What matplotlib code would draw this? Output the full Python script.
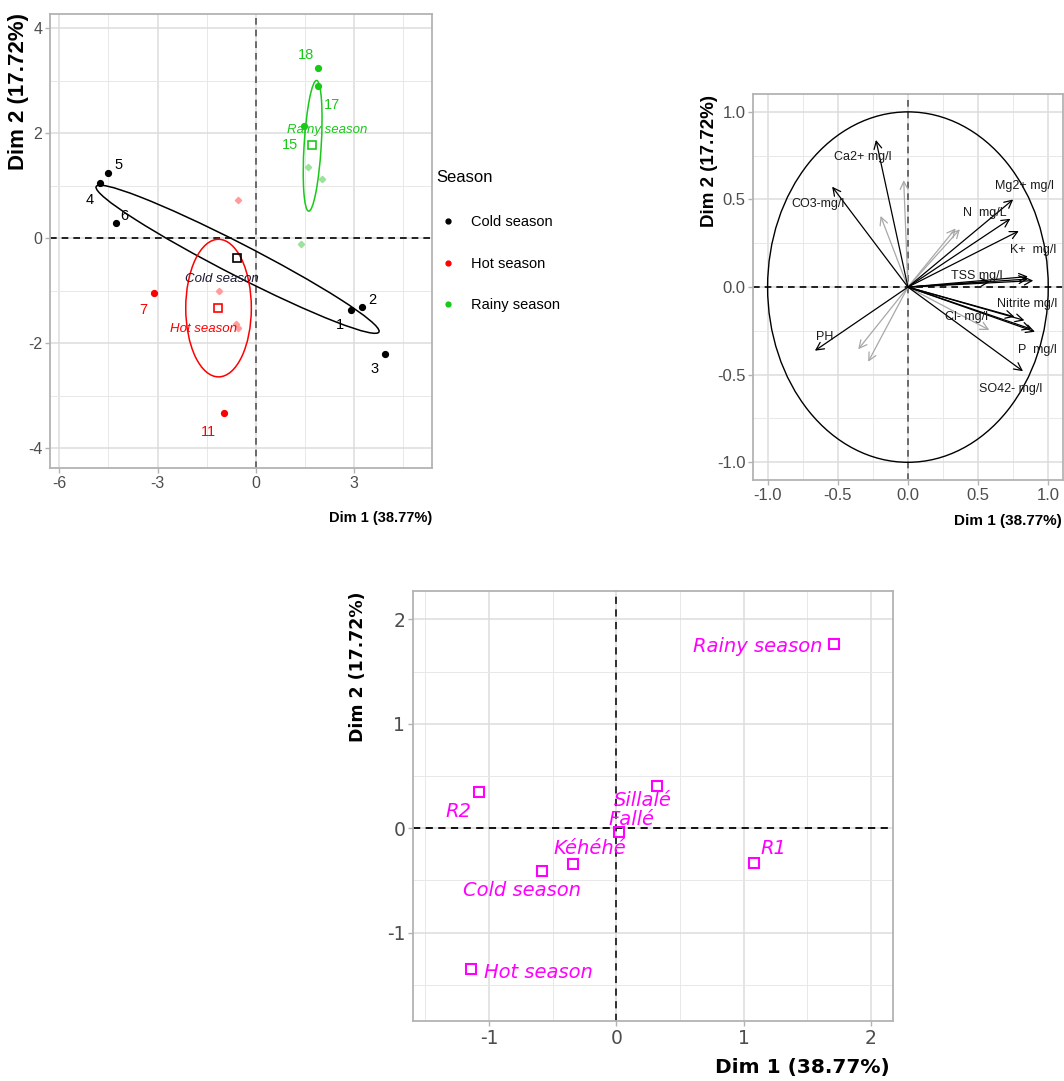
import numpy as np
import matplotlib
matplotlib.use('Agg')
import matplotlib.pyplot as plt
from matplotlib.patches import Ellipse, Circle
from matplotlib.lines import Line2D
from matplotlib.ticker import FormatStrFormatter
from matplotlib import font_manager as fm

plt.rcParams['axes.unicode_minus'] = False

names = {f.name for f in fm.fontManager.ttflist}
HAS_NARROW = 'Liberation Sans Narrow' in names
NARROW = 'Liberation Sans Narrow' if HAS_NARROW else 'Liberation Sans'
NS = 1.15 if HAS_NARROW else 1.0   # size factor when a narrow face exists
REG = 'Liberation Sans'
WIDE = 'DejaVu Sans'

# ---------------- data: panel 1 (individuals) ----------------
cold_x = [2.90, 3.24, 3.93, -4.76, -4.50, -4.28]
cold_y = [-1.37, -1.30, -2.20, 1.05, 1.24, 0.29]
cold_lab = ['1', '2', '3', '4', '5', '6']

hot_x = [-3.11, -0.98, -0.56, -1.13, -0.60, -0.55]
hot_y = [-1.04, -3.32, 0.73, -1.01, -1.63, -1.70]
hot_lab = ['7', '11', None, None, None, None]

rainy_x = [1.90, 1.90, 1.47, 1.59, 2.03, 1.39]
rainy_y = [3.24, 2.90, 2.14, 1.36, 1.13, -0.11]
rainy_lab = ['18', '17', '15', None, None, None]

season_names = ['Cold season', 'Hot season', 'Rainy season']
legend_title = 'Season'

# ellipse parameters (center, width, height, angle)
ell_center = [(-0.56, -0.40), (-1.14, -1.33), (1.73, 1.76)]
ell_width = [9.06, 2.00, 2.50]
ell_height = [0.64, 2.62, 0.52]
ell_angle = [-17.7, 0.0, 84.3]

# ---------------- data: panel 2 (variables) ----------------
var_names = ['Ca2+ mg/l', 'CO3-mg/l', 'Mg2+ mg/l', 'N  mg/L', 'K+  mg/l',
             'TSS mg/l', 'Nitrite mg/l', 'P  mg/l', 'SO42- mg/l', 'PH']
var_x = [-0.228, -0.54, 0.75, 0.73, 0.79, 0.893, 0.76, 0.905, 0.82, -0.663]
var_y = [0.84, 0.573, 0.50, 0.39, 0.32, 0.037, -0.17, -0.255, -0.48, -0.363]
extra_x = [0.855, 0.855, 0.585, 0.88, 0.83]
extra_y = [0.046, 0.06, 0.031, -0.24, -0.19]
sup_x = [-0.03, -0.195, 0.34, 0.37, 0.58, -0.354, -0.283]
sup_y = [0.61, 0.406, 0.335, 0.33, -0.245, -0.355, -0.426]
cl_name = 'Cl- mg/l'
var_lab_pos = [(-0.32, 0.745), (-0.64, 0.474), (0.83, 0.577), (0.55, 0.42),
               (0.89, 0.21), (0.49, 0.065), (0.846, -0.097), (0.92, -0.36),
               (0.73, -0.583), (-0.59, -0.283)]
cl_lab_pos = (0.42, -0.169)

# ---------------- data: panel 3 (supplementary categories) ----------------
cat_names = ['Rainy season', 'R2', 'Sillalé', 'Fallé', 'Kéhéhé',
             'Cold season', 'R1', 'Hot season']
cat_x = [1.71, -1.08, 0.32, 0.02, -0.34, -0.58, 1.08, -1.14]
cat_y = [1.77, 0.345, 0.405, -0.04, -0.34, -0.41, -0.33, -1.35]
cat_off = [(-12, -3), (-20, -19), (-14, -14), (13, 13), (17, 15),
           (-20, -19), (20, 14), (13, -3)]
cat_ha = ['right', 'center', 'center', 'center', 'center', 'center', 'center', 'left']

# ---------------- figure ----------------
W, H = 1064, 1081
fig = plt.figure(figsize=(W / 100, H / 100), dpi=100)


def add_ax(l, t, r, b):
    return fig.add_axes([l / W, 1 - b / H, (r - l) / W, (b - t) / H])


def style(ax, xlim, ylim, xmaj, xmin, ymaj, ymin, family, fs, fmt=None):
    ax.set_xlim(xlim)
    ax.set_ylim(ylim)
    ax.set_xticks(xmaj)
    ax.set_xticks(xmin, minor=True)
    ax.set_yticks(ymaj)
    ax.set_yticks(ymin, minor=True)
    if fmt:
        ax.xaxis.set_major_formatter(FormatStrFormatter(fmt))
        ax.yaxis.set_major_formatter(FormatStrFormatter(fmt))
    ax.grid(which='major', color='#DCDCDC', lw=1.1)
    ax.grid(which='minor', color='#E8E8E8', lw=0.7)
    ax.set_axisbelow(True)
    for s in ax.spines.values():
        s.set_color('#B3B3B3')
        s.set_linewidth(1.3)
    ax.tick_params(which='major', length=3.5, width=1, color='#B3B3B3',
                   labelcolor='#4D4D4D', labelsize=fs, pad=2)
    ax.tick_params(which='minor', length=0)
    for lab in ax.get_xticklabels() + ax.get_yticklabels():
        lab.set_family(family)


dash = (0, (4, 3))

# ===== Panel 1 =====
ax1 = add_ax(50, 14, 432, 468)
style(ax1, (-6.28, 5.37), (-4.375, 4.27), [-6, -3, 0, 3], [-4.5, -1.5, 1.5, 4.5],
      [-4, -2, 0, 2, 4], [-3, -1, 1, 3], NARROW, 11.5 * NS)
ax1.axhline(0, color='black', ls=dash, lw=1.2, zorder=1)
ax1.axvline(0, color='#555555', ls=dash, lw=1.2, zorder=1)

groups = [(cold_x, cold_y, cold_lab, 'black', '#8C8C8C'),
          (hot_x, hot_y, hot_lab, '#FF0000', '#FF9C9C'),
          (rainy_x, rainy_y, rainy_lab, '#19C819', '#9CE29C')]
ell_colors = ['black', '#FF0000', '#19C819']
for i in range(3):
    e = Ellipse(ell_center[i], ell_width[i], ell_height[i], angle=ell_angle[i],
                fill=False, edgecolor=ell_colors[i], lw=1.1, zorder=2)
    ax1.add_patch(e)

lab_off = {'1': (-11, -15), '2': (10, 7), '3': (-10, -15), '4': (-10, -17),
           '5': (10, 8), '6': (9, 7), '7': (-11, -17), '11': (-15, -19),
           '18': (-12, 13), '17': (14, -19), '15': (-14, -19)}

for gx, gy, glab, col, light in groups:
    for x, y, lab in zip(gx, gy, glab):
        if lab is None:
            ax1.plot(x, y, marker='D', ms=3.2, color=light, ls='', zorder=3)
        else:
            ax1.plot(x, y, marker='o', ms=4.2, color=col, ls='', zorder=4)
            ax1.annotate(lab, (x, y), xytext=lab_off[lab], textcoords='offset pixels',
                         ha='center', va='center', color=col, fontsize=10.5 * NS,
                         family=NARROW, zorder=5)

cent_off = [(-15, -21), (-15, -21), (15, 15)]
for i, (gx, gy, glab, col, light) in enumerate(groups):
    cx, cy = np.mean(gx), np.mean(gy)
    ax1.plot(cx, cy, marker='s', ms=5.5, mfc='none', mec=col, mew=1.2, ls='', zorder=4)
    tcol = '#1A1A33' if i == 0 else col
    ax1.annotate(season_names[i], (cx, cy), xytext=cent_off[i], textcoords='offset pixels',
                 ha='center', va='center', color=tcol, fontsize=9.5 * NS, style='italic',
                 family=NARROW, zorder=5)

fig.text(432 / W, 1 - 518 / H, 'Dim 1 (38.77%)', ha='right', va='center',
         fontsize=10.5 * NS, fontweight='bold', family=NARROW)
fig.text(19 / W, 1 - 13 / H, 'Dim 2 (17.72%)', ha='center', va='top', rotation=90,
         fontsize=16, fontweight='bold', family=REG)

# legend (title placed separately so the gap below it matches)
fig.text(436 / W, 1 - 178 / H, legend_title, ha='left', va='center',
         fontsize=12 * NS, family=NARROW)
handles = [Line2D([], [], marker='o', ls='', ms=3.5, color=c) for c in ell_colors]
leg = fig.legend(handles, season_names, loc='upper left',
                 bbox_to_anchor=(436 / W, 1 - 215 / H), frameon=False,
                 prop={'family': NARROW, 'size': 10.5 * NS},
                 handlelength=1.6, handletextpad=0.8, labelspacing=1.9,
                 borderaxespad=0, borderpad=0)

# ===== Panel 2 =====
ax2 = add_ax(753, 94, 1063, 480)
style(ax2, (-1.104, 1.105), (-1.101, 1.102), [-1, -0.5, 0, 0.5, 1],
      [-0.75, -0.25, 0.25, 0.75], [-1, -0.5, 0, 0.5, 1], [-0.75, -0.25, 0.25, 0.75],
      REG, 12, fmt='%.1f')
ax2.axhline(0, color='black', ls=dash, lw=1.2, zorder=1)
ax2.axvline(0, color='#555555', ls=dash, lw=1.2, zorder=1)
ax2.add_patch(Circle((0, 0), 1.0, fill=False, edgecolor='black', lw=1.0, zorder=2))

astyle = '->,head_length=0.55,head_width=0.28'
for x, y in zip(sup_x, sup_y):
    ax2.annotate('', xy=(x, y), xytext=(0, 0),
                 arrowprops=dict(arrowstyle=astyle, color='#A8A8A8', lw=0.9,
                                 shrinkA=0, shrinkB=0), zorder=3)
for x, y in zip(extra_x, extra_y):
    ax2.annotate('', xy=(x, y), xytext=(0, 0),
                 arrowprops=dict(arrowstyle=astyle, color='black', lw=0.9,
                                 shrinkA=0, shrinkB=0), zorder=4)
for x, y in zip(var_x, var_y):
    ax2.annotate('', xy=(x, y), xytext=(0, 0),
                 arrowprops=dict(arrowstyle=astyle, color='black', lw=0.9,
                                 shrinkA=0, shrinkB=0), zorder=4)
for name, (tx, ty) in zip(var_names, var_lab_pos):
    ax2.text(tx, ty, name, ha='center', va='center', fontsize=9 * NS, family=NARROW,
             color='#1A1A1A', zorder=5)
ax2.text(cl_lab_pos[0], cl_lab_pos[1], cl_name, ha='center', va='center',
         fontsize=9 * NS, family=NARROW, color='#1A1A1A', zorder=5)

fig.text(1062 / W, 1 - 521 / H, 'Dim 1 (38.77%)', ha='right', va='center',
         fontsize=11 * NS, fontweight='bold', family=NARROW)
fig.text(709 / W, 1 - 95 / H, 'Dim 2 (17.72%)', ha='center', va='top', rotation=90,
         fontsize=13.5, fontweight='bold', family=REG)

# ===== Panel 3 =====
ax3 = add_ax(413, 591, 893, 1021)
style(ax3, (-1.597, 2.173), (-1.846, 2.273), [-1, 0, 1, 2], [-1.5, -0.5, 0.5, 1.5],
      [-1, 0, 1, 2], [-1.5, -0.5, 0.5, 1.5], WIDE, 13.5)
ax3.axhline(0, color='black', ls=dash, lw=1.3, zorder=1)
ax3.axvline(0, color='#222222', ls=dash, lw=1.3, zorder=1)
MAG = '#FF00FF'
ax3.plot(cat_x, cat_y, marker='s', ms=7, mfc='none', mec=MAG, mew=1.5, ls='', zorder=3)
for name, x, y, off, ha in zip(cat_names, cat_x, cat_y, cat_off, cat_ha):
    ax3.annotate(name, (x, y), xytext=off, textcoords='offset pixels', ha=ha,
                 va='center', color=MAG, fontsize=14, style='italic', family=WIDE,
                 zorder=4)

fig.text(890 / W, 1 - 1068 / H, 'Dim 1 (38.77%)', ha='right', va='center',
         fontsize=14.5, fontweight='bold', family=WIDE)
fig.text(358 / W, 1 - 592 / H, 'Dim 2 (17.72%)', ha='center', va='top', rotation=90,
         fontsize=12.5, fontweight='bold', family=WIDE)

fig.savefig('out.png', dpi=100)
